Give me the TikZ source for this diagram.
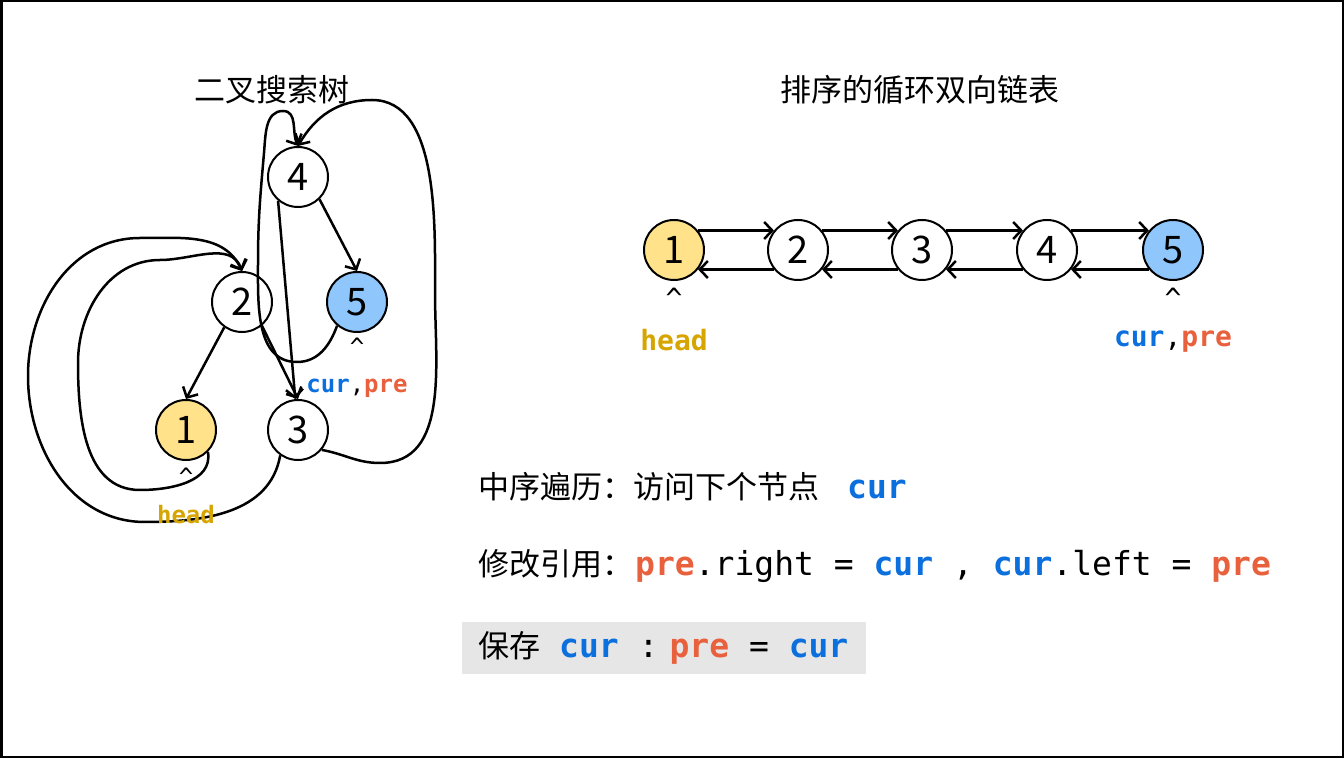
\documentclass[tikz,border=0pt]{standalone}
\usepackage{fontspec}
\setmainfont{Noto Sans CJK SC}
\newfontfamily\mono{DejaVu Sans Mono}
\usetikzlibrary{arrows.meta}
\definecolor{curc}{HTML}{0B6FDE}
\definecolor{prec}{HTML}{E8603C}
\definecolor{headc}{HTML}{D6A500}
\definecolor{yel}{HTML}{FFE28A}
\definecolor{blu}{HTML}{8FC6FC}
\definecolor{boxg}{HTML}{E6E6E6}
\newcommand{\cu}{{\mono\bfseries\color{curc}cur}}
\newcommand{\pr}{{\mono\bfseries\color{prec}pre}}
\begin{document}
\begin{tikzpicture}[x=1pt,y=1pt,
  nd/.style={circle,draw,line width=2pt,minimum size=60pt,inner sep=0pt,fill=white,font=\fontsize{38}{40}\selectfont},
  arr/.style={line width=2.5pt,-{Straight Barb[length=8pt,width=17pt,line width=2.5pt]}},
  cjk/.style={font=\fontsize{31}{34}\selectfont,inner sep=0pt},
  lbl/.style={inner sep=0pt,font=\mono\fontsize{24}{26}\selectfont},
  lblb/.style={inner sep=0pt,font=\mono\fontsize{28}{30}\selectfont},
]
\useasboundingbox (0,0) rectangle (1344,758);
\draw[line width=2.5pt] (1.25,1.25) rectangle (1342.75,756.75);

% titles
\node[cjk] (title1) at (272,668) {二叉搜索树};
\node[cjk] (title2) at (920,668) {排序的循环双向链表};

% tree nodes
\node[nd] (t4) at (298,581) {4};
\node[nd] (t2) at (242,456) {2};
\node[nd,fill=blu] (t5) at (357,456) {5};
\node[nd,fill=yel] (t1) at (186,328) {1};
\node[nd] (t3) at (298,328) {3};

% tree edges
\draw[arr] (t2.-125) -- (t1.north);
\draw[arr] (t2.-50) -- (t3.north);
\draw[arr] (t4.-130) -- (t3.95);
\draw[arr] (t4.-46) -- (t5.north);
% 5 -> 4
\draw[arr] (t5.-130) to[out=-110,in=0] (297,396) to[out=180,in=-90] (258,495)
  to[out=90,in=-95] (264,605) to[out=85,in=180] (283,647) to[out=0,in=115] (t4.north);
% 3 -> 4
\draw[arr] (t3.-40) to[out=-10,in=180] (380,295) to[out=0,in=-90] (435,465)
  to[out=90,in=0,looseness=0.85] (372,658) to[out=180,in=60] (t4.north);
% 1 -> 2
\draw[arr] (t1.-45) to[out=-80,in=0] (140,268) to[out=180,in=-90] (78,395)
  to[out=90,in=180] (160,498) to[out=0,in=110] (t2.north);
% 3 -> 2
\draw[arr] (t3.-125) to[out=-100,in=0] (145,236) to[out=180,in=-90] (28,382)
  to[out=90,in=180] (140,520) to[out=0,in=115] (t2.north);

% tree labels
\node[lbl] (c1) at (186,281) {\^{}};
\node[lbl] (h1) at (186,243) {\bfseries\color{headc}head};
\node[lbl] (c2) at (357,411) {\^{}};
\node[lbl] (cp1) at (357,370) {\cu,\pr};

% list nodes
\node[nd,fill=yel] (l1) at (674,508) {1};
\node[nd] (l2) at (798,508) {2};
\node[nd] (l3) at (922,508) {3};
\node[nd] (l4) at (1047,508) {4};
\node[nd,fill=blu] (l5) at (1173,508) {5};
\foreach \a/\b in {l1/l2,l2/l3,l3/l4,l4/l5}{
  \draw[arr] (\a.39) -- (\b.141);
  \draw[arr] (\b.-141) -- (\a.-39);
}
\node[lblb] (c3) at (674,460) {\^{}};
\node[lblb] (h2) at (674,418) {\bfseries\color{headc}head};
\node[lblb] (c4) at (1173,460) {\^{}};
\node[lblb] (cp2) at (1173,416) {\cu,\pr};

% text lines
\node[cjk,anchor=west] (line1) at (478,271) {中序遍历：访问下个节点\hspace{28pt}{\fontsize{33}{34}\selectfont\cu}};
\node[cjk,anchor=west] (line2) at (478,192) {修改引用：\hspace{2pt}{\fontsize{33}{34}\selectfont\pr{\mono .right = }\cu{\mono{} , }\cu{\mono .left = }\pr}};
\fill[boxg] (462,84) rectangle (866,136);
\node[cjk,anchor=west] (line3) at (478,110) {保存\hspace{19pt}{\fontsize{33}{34}\selectfont\cu{\mono{} :}\hspace{11pt}\pr{\mono{} = }\cu}};
\end{tikzpicture}
\end{document}
